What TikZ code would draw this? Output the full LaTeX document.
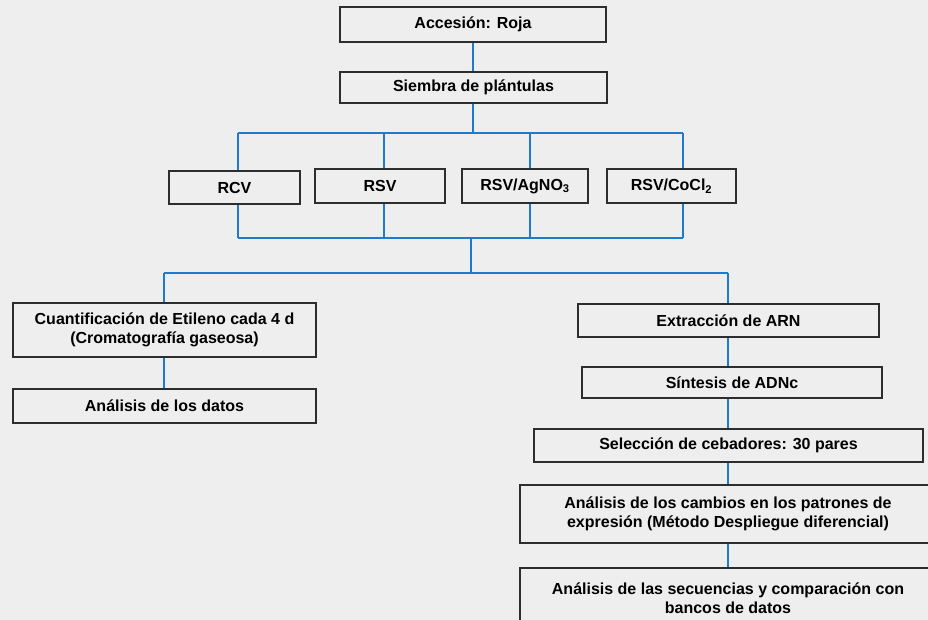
\documentclass[tikz,border=0pt]{standalone}
\usepackage{fontspec}
\setmainfont{Liberation Sans}
\usetikzlibrary{backgrounds}
\definecolor{bg}{RGB}{238,238,238}
\definecolor{conncol}{RGB}{30,122,206}
\definecolor{boxline}{RGB}{45,45,45}
\begin{document}
\begin{tikzpicture}[x=1pt,y=-1pt,
  stepbox/.style={draw=boxline, line width=1.4pt, fill=bg, inner sep=0pt,
    align=center, font=\fontsize{16}{19.5}\selectfont\bfseries},
  conn/.style={draw=conncol, line width=1.8pt}]
\useasboundingbox (0,0) rectangle (928,620);
\clip (0,0) rectangle (928,620);

% boxes
\node[stepbox, minimum width=266, minimum height=35] (acc) at (473,24.5) {Accesión: Roja};
\node[stepbox, minimum width=267, minimum height=31] (siem) at (473.5,87.5) {Siembra de plántulas};
\node[stepbox, minimum width=131, minimum height=33] (rcv) at (234.5,187.5) {RCV};
\node[stepbox, minimum width=130, minimum height=34] (rsv) at (380,186) {RSV};
\node[stepbox, minimum width=126, minimum height=34] (ag) at (525,186) {RSV/AgNO\textsubscript{3}};
\node[stepbox, minimum width=129, minimum height=34] (co) at (671.5,186) {RSV/CoCl\textsubscript{2}};
\node[stepbox, minimum width=303, minimum height=54] (cuant) at (164.5,330) {Cuantificación de Etileno cada 4 d\\(Cromatografía gaseosa)};
\node[stepbox, minimum width=303, minimum height=34] (anal) at (164.5,406) {Análisis de los datos};
\node[stepbox, minimum width=301, minimum height=33] (ext) at (728.5,320.5) {Extracción de ARN};
\node[stepbox, minimum width=300, minimum height=31] (sint) at (732,382.5) {Síntesis de ADNc};
\node[stepbox, minimum width=389, minimum height=33] (sel) at (728.5,445.5) {Selección de cebadores: 30 pares};
\node[stepbox, minimum width=416, minimum height=58] (camb) at (728,514) {Análisis de los cambios en los patrones de\\expresión (Método Despliegue diferencial)};
\node[stepbox, minimum width=416, minimum height=60] (sec) at (728,598) {Análisis de las secuencias y comparación con\\bancos de datos};

% connector junction points
\coordinate (t0) at (473,133);
\coordinate (tL) at (238,133);
\coordinate (t2) at (384,133);
\coordinate (t3) at (530,133);
\coordinate (tR) at (683,133);
\coordinate (b0) at (471,238);
\coordinate (bL) at (238,238);
\coordinate (b2) at (384,238);
\coordinate (b3) at (530,238);
\coordinate (bR) at (683,238);
\coordinate (c0) at (471,273);
\coordinate (cL) at (164,273);
\coordinate (cR) at (728,273);

\begin{scope}[on background layer]
\fill[bg] (0,0) rectangle (928,620);
\draw[conn] (acc.south) -- (acc.south |- siem.north);
\draw[conn] (siem.south -| t0) -- (t0);
\draw[conn] (tL) -- (tR);
\draw[conn] (tL) -- (tL |- rcv.north);
\draw[conn] (t2) -- (t2 |- rsv.north);
\draw[conn] (t3) -- (t3 |- ag.north);
\draw[conn] (tR) -- (tR |- co.north);
\draw[conn] (rcv.south -| bL) -- (bL);
\draw[conn] (rsv.south -| b2) -- (b2);
\draw[conn] (ag.south -| b3) -- (b3);
\draw[conn] (co.south -| bR) -- (bR);
\draw[conn] (bL) -- (bR);
\draw[conn] (b0) -- (c0);
\draw[conn] (cL) -- (cR);
\draw[conn] (cL) -- (cL |- cuant.north);
\draw[conn] (cuant.south -| cL) -- (cL |- anal.north);
\draw[conn] (cR) -- (cR |- ext.north);
\draw[conn] (ext.south -| cR) -- (cR |- sint.north);
\draw[conn] (sint.south -| cR) -- (cR |- sel.north);
\draw[conn] (sel.south -| cR) -- (cR |- camb.north);
\draw[conn] (camb.south -| cR) -- (cR |- sec.north);
\end{scope}
\end{tikzpicture}
\end{document}
